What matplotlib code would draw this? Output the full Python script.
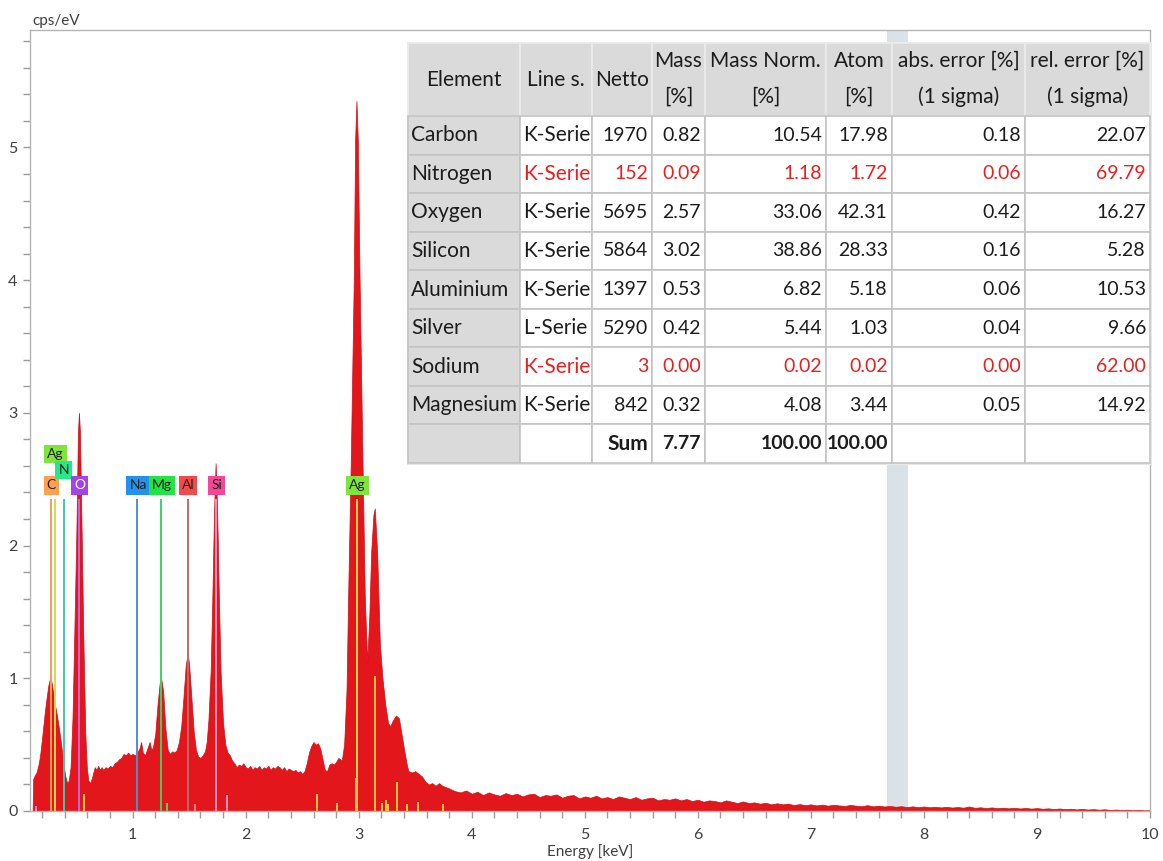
import numpy as np
import matplotlib
matplotlib.use("Agg")
import matplotlib.pyplot as plt
from matplotlib.patches import Rectangle
from matplotlib.ticker import MultipleLocator

plt.rcParams['font.family'] = ['Lato', 'DejaVu Sans']

# --- Spectre EDX ---
energy_low = [0.10, 0.115, 0.12, 0.135, 0.15, 0.165, 0.18, 0.195, 0.21, 0.225, 0.24, 0.255,
              0.272, 0.285, 0.30, 0.315, 0.33, 0.345, 0.36, 0.375, 0.39, 0.405, 0.42, 0.435,
              0.451, 0.468, 0.484, 0.502, 0.516, 0.525, 0.534, 0.549, 0.563, 0.581, 0.595,
              0.608, 0.625, 0.64, 0.655, 0.665, 0.68, 0.695, 0.71, 0.725, 0.74, 0.76, 0.78,
              0.80, 0.82, 0.84, 0.86, 0.88, 0.90, 0.92, 0.94, 0.96, 0.98, 1.00, 1.02, 1.04,
              1.06, 1.075, 1.09, 1.11, 1.13, 1.15, 1.165, 1.18, 1.20, 1.22, 1.24, 1.254, 1.27,
              1.29, 1.31, 1.33, 1.35, 1.37, 1.39, 1.41, 1.43, 1.45, 1.47, 1.487, 1.50, 1.52,
              1.54, 1.56, 1.58, 1.60, 1.62, 1.64, 1.655, 1.67, 1.69, 1.705, 1.72, 1.734, 1.748,
              1.763, 1.778, 1.80, 1.82, 1.84, 1.86, 1.88, 1.90, 1.92, 1.94, 1.96, 1.98, 2.00,
              2.02, 2.04, 2.06, 2.08, 2.10, 2.12, 2.14, 2.16, 2.18, 2.20, 2.22, 2.24, 2.26,
              2.28, 2.30, 2.32, 2.34, 2.36, 2.38, 2.40, 2.42, 2.44, 2.46, 2.48, 2.50, 2.52,
              2.54, 2.56, 2.58, 2.60, 2.62, 2.64, 2.66, 2.68, 2.70, 2.72, 2.74, 2.76, 2.78,
              2.80, 2.82, 2.85, 2.871, 2.892, 2.906, 2.93, 2.957, 2.968, 2.980, 2.992, 3.007,
              3.033, 3.054, 3.075, 3.095, 3.11, 3.13, 3.142, 3.163, 3.187, 3.21, 3.235, 3.26,
              3.28, 3.30, 3.33, 3.355, 3.375, 3.40, 3.425, 3.44, 3.47, 3.50, 3.53, 3.56, 3.59,
              3.62, 3.65, 3.68, 3.71, 3.74, 3.77]
cps_low = [0.0, 0.0, 0.24, 0.27, 0.29, 0.34, 0.41, 0.52, 0.64, 0.76, 0.86, 0.95,
           1.01, 0.96, 0.87, 0.79, 0.72, 0.64, 0.55, 0.45, 0.34, 0.26, 0.21, 0.23,
           0.33, 0.70, 1.34, 2.09, 2.85, 3.00, 2.85, 2.09, 1.34, 0.59, 0.32,
           0.23, 0.21, 0.25, 0.30, 0.33, 0.31, 0.34, 0.31, 0.33, 0.31, 0.33, 0.32,
           0.34, 0.33, 0.36, 0.37, 0.39, 0.40, 0.43, 0.42, 0.44, 0.42, 0.43, 0.42, 0.44,
           0.47, 0.52, 0.44, 0.42, 0.47, 0.52, 0.46, 0.48, 0.58, 0.80, 0.97, 0.99, 0.90,
           0.62, 0.46, 0.43, 0.45, 0.44, 0.46, 0.52, 0.64, 0.86, 1.10, 1.19, 1.10, 0.85,
           0.60, 0.46, 0.41, 0.40, 0.42, 0.45, 0.52, 0.68, 1.05, 1.60, 2.25, 2.62, 2.25,
           1.60, 1.05, 0.66, 0.50, 0.44, 0.42, 0.38, 0.36, 0.33, 0.35, 0.34, 0.36, 0.33,
           0.32, 0.34, 0.31, 0.33, 0.32, 0.34, 0.31, 0.33, 0.32, 0.34, 0.31, 0.33, 0.32,
           0.34, 0.33, 0.31, 0.33, 0.30, 0.32, 0.31, 0.30, 0.31, 0.29, 0.30, 0.28, 0.30,
           0.36, 0.44, 0.49, 0.52, 0.50, 0.51, 0.47, 0.39, 0.31, 0.30, 0.35, 0.36, 0.35,
           0.37, 0.40, 0.38, 0.50, 0.91, 1.60, 2.65, 4.04, 5.05, 5.35, 5.05, 4.04,
           2.65, 1.60, 1.12, 1.50, 1.95, 2.23, 2.28, 1.95, 1.26, 1.00, 0.80, 0.66,
           0.64, 0.68, 0.72, 0.70, 0.60, 0.47, 0.35, 0.30, 0.29, 0.30, 0.28, 0.26, 0.22,
           0.20, 0.21, 0.19, 0.21, 0.19, 0.18]

energy_tail = [3.80, 3.85, 3.90, 3.95, 4.00, 4.05, 4.10, 4.15, 4.20, 4.25, 4.30, 4.35, 4.40,
               4.45, 4.50, 4.55, 4.60, 4.65, 4.70, 4.75, 4.80, 4.85, 4.90, 4.95, 5.00, 5.05,
               5.10, 5.15, 5.20, 5.25, 5.30, 5.35, 5.40, 5.45, 5.50, 5.55, 5.60, 5.65, 5.70,
               5.75, 5.80, 5.85, 5.90, 5.95, 6.00, 6.05, 6.10, 6.15, 6.20, 6.25, 6.30, 6.35,
               6.40, 6.45, 6.50, 6.55, 6.60, 6.65, 6.70, 6.75, 6.80, 6.85, 6.90, 6.95, 7.00,
               7.05, 7.10, 7.15, 7.20, 7.25, 7.30, 7.35, 7.40, 7.45, 7.50, 7.55, 7.60, 7.65,
               7.70, 7.75, 7.80, 7.85, 7.90, 7.95, 8.00, 8.05, 8.10, 8.15, 8.20, 8.25, 8.30,
               8.35, 8.40, 8.45, 8.50, 8.55, 8.60, 8.65, 8.70, 8.75, 8.80, 8.85, 8.90, 8.95,
               9.00, 9.05, 9.10, 9.15, 9.20, 9.25, 9.30, 9.35, 9.40, 9.45, 9.50, 9.55, 9.60,
               9.65, 9.70, 9.75, 9.80, 9.85, 9.90, 9.95, 10.00]
cps_tail = [0.17, 0.15, 0.14, 0.155, 0.13, 0.145, 0.12, 0.14, 0.125, 0.115, 0.135, 0.12, 0.13,
            0.11, 0.125, 0.13, 0.105, 0.12, 0.115, 0.125, 0.10, 0.115, 0.12, 0.095, 0.11, 0.10,
            0.115, 0.095, 0.105, 0.09, 0.11, 0.10, 0.09, 0.105, 0.085, 0.095, 0.10, 0.08, 0.09,
            0.085, 0.095, 0.08, 0.09, 0.075, 0.085, 0.07, 0.08, 0.075, 0.065, 0.08, 0.07, 0.06,
            0.072, 0.06, 0.065, 0.055, 0.062, 0.05, 0.058, 0.05, 0.055, 0.045, 0.052, 0.044, 0.05,
            0.042, 0.048, 0.04, 0.047, 0.042, 0.038, 0.046, 0.04, 0.036, 0.044, 0.035, 0.04, 0.034,
            0.038, 0.032, 0.036, 0.03, 0.035, 0.029, 0.034, 0.028, 0.032, 0.027, 0.031, 0.026, 0.03,
            0.025, 0.034, 0.024, 0.028, 0.022, 0.027, 0.021, 0.025, 0.02, 0.024, 0.019, 0.023, 0.018,
            0.022, 0.017, 0.02, 0.015, 0.019, 0.014, 0.017, 0.012, 0.016, 0.011, 0.014, 0.01, 0.013,
            0.008, 0.011, 0.007, 0.01, 0.006, 0.009, 0.005, 0.006]

# --- Raies identifiées (marqueurs hauts + étiquettes) ---
raie_noms = ["C", "Ag", "N", "O", "Na", "Mg", "Al", "Si", "Ag"]
raie_energies = [0.277, 0.31, 0.392, 0.525, 1.041, 1.254, 1.486, 1.740, 2.984]
raie_hauteur = 2.35

# raies secondaires (courtes)
raie2_energies = [0.142, 0.569, 1.30, 1.551, 1.837, 2.635, 2.81, 2.975, 3.148, 3.21,
                  3.24, 3.26, 3.343, 3.43, 3.52, 3.746]
raie2_hauteurs = [0.04, 0.13, 0.06, 0.05, 0.12, 0.13, 0.06, 0.25, 1.02, 0.06,
                  0.08, 0.05, 0.22, 0.05, 0.07, 0.05]
raie2_element = ["Si", "Ag", "Mg", "Al", "Si", "Ag", "Ag", "Ag", "Ag", "Ag",
                 "Ag", "Ag", "Ag", "Ag", "Ag", "Ag"]

# zone grisée (ROI)
roi_kev = [7.672, 7.858]

# --- Tableau de quantification ---
tab_element = ["Carbon", "Nitrogen", "Oxygen", "Silicon", "Aluminium", "Silver", "Sodium", "Magnesium"]
tab_serie = ["K-Serie", "K-Serie", "K-Serie", "K-Serie", "K-Serie", "L-Serie", "K-Serie", "K-Serie"]
tab_netto = [1970, 152, 5695, 5864, 1397, 5290, 3, 842]
tab_mass = [0.82, 0.09, 2.57, 3.02, 0.53, 0.42, 0.00, 0.32]
tab_mass_norm = [10.54, 1.18, 33.06, 38.86, 6.82, 5.44, 0.02, 4.08]
tab_atom = [17.98, 1.72, 42.31, 28.33, 5.18, 1.03, 0.02, 3.44]
tab_abs_err = [0.18, 0.06, 0.42, 0.16, 0.06, 0.04, 0.00, 0.05]
tab_rel_err = [22.07, 69.79, 16.27, 5.28, 10.53, 9.66, 62.00, 14.92]
tab_douteux = ["Nitrogen", "Sodium"]
tab_sum = {"mass": 7.77, "mass_norm": 100.00, "atom": 100.00}
tab_entetes = ["Element", "Line s.", "Netto", "Mass\n[%]", "Mass Norm.\n[%]", "Atom\n[%]",
               "abs. error [%]\n(1 sigma)", "rel. error [%]\n(1 sigma)"]

# --- Styles ---
ROUGE = '#e3161b'
couleur_raie = {"C": '#e8a060', "Ag": '#d8d850', "N": '#40c8b0', "O": '#c868d8', "Na": '#4c90d0',
                "Mg": '#40d060', "Al": '#c46868', "Si": '#f090c0'}
couleur_etiq = {"C": '#ffa050', "Ag": '#7fe43c', "N": '#22ea88', "O": '#a444e4', "Na": '#2492ea',
                "Mg": '#22e444', "Al": '#f24a48', "Si": '#f44896'}
couleur_raie2 = {"Ag": '#f0c640', "Mg": '#50d860', "Al": '#e08080', "Si": '#f090c8'}
# positions des étiquettes (keV, cps/eV)
etiq_pos = [(0.280, 2.453), (0.316, 2.69), (0.390, 2.57), (0.532, 2.453), (1.047, 2.453),
            (1.257, 2.453), (1.489, 2.453), (1.745, 2.453), (2.990, 2.453)]

W, H = 1163, 861
fig = plt.figure(figsize=(W / 100, H / 100), dpi=100)
ax = fig.add_axes([30 / W, 1 - 811 / H, 1120 / W, 781 / H])

energie = np.array(energy_low + energy_tail)
cps = np.array(cps_low + cps_tail)

ax.axvspan(roi_kev[0], roi_kev[1], color='#dbe2e7', lw=0, zorder=1)
ax.fill_between(energie, cps, 0, color=ROUGE, lw=0.5, edgecolor='#d01015', zorder=2)

# raies principales
for nom, e in zip(raie_noms, raie_energies):
    ax.vlines(e, 0, raie_hauteur, color=couleur_raie[nom], lw=1.4, zorder=3)
for e, h, el in zip(raie2_energies, raie2_hauteurs, raie2_element):
    ax.vlines(e, 0, h, color=couleur_raie2[el], lw=1.4, zorder=3)

# étiquettes
for nom, (ex, ey) in zip(raie_noms, etiq_pos):
    ax.text(ex, ey, nom, ha='center', va='center', fontsize=10,
            color='white' if nom == "O" else '#202020', zorder=4,
            bbox=dict(boxstyle='square,pad=0.22', fc=couleur_etiq[nom], ec='none'))

ax.set_xlim(0.092, 10.0)
ax.set_ylim(0, 5.885)
ax.xaxis.set_major_locator(MultipleLocator(1))
ax.xaxis.set_minor_locator(MultipleLocator(0.2))
ax.yaxis.set_major_locator(MultipleLocator(1))
ax.yaxis.set_minor_locator(MultipleLocator(0.2))
ax.tick_params(which='both', direction='out', length=5, width=1, color='#9a9a9a',
               labelsize=11.5, labelcolor='#404040')
ax.tick_params(axis='x', pad=7)
ax.tick_params(axis='y', pad=4)
for s in ax.spines.values():
    s.set_color('#b4b4b4')
    s.set_linewidth(1)

fig.text(32 / W, 1 - 21 / H, "cps/eV", ha='left', va='center', fontsize=11, color='#404040')
fig.text(590 / W, 1 - 852 / H, "Energy [keV]", ha='center', va='center', fontsize=11, color='#404040')

# --- Tableau dessiné en coordonnées pixels ---
tax = fig.add_axes([0, 0, 1, 1], zorder=5)
tax.set_xlim(0, W)
tax.set_ylim(H, 0)
tax.axis('off')
tax.patch.set_alpha(0)

cols = [408, 520, 592, 652, 705, 826, 892, 1025, 1150]
rows = [43, 116, 154.6, 193.1, 231.7, 270.2, 308.8, 347.3, 385.9, 424.4, 463]
GRIS = '#dadada'
BORD = '#c4c4c4'
NOIR = '#1c1c1c'
ROUGE_TXT = '#e8201e'
FS_TXT = 15
FS_NUM = 14

tax.add_patch(Rectangle((cols[0] - 1, rows[0] - 1), cols[-1] - cols[0] + 3, rows[-1] - rows[0] + 3,
                        fc='#e8e8e8', ec='none'))
for r in range(len(rows) - 1):
    for c in range(len(cols) - 1):
        fc = GRIS if (r == 0 or c == 0) else 'white'
        ec = '#ececec' if r == 0 else BORD
        tax.add_patch(Rectangle((cols[c], rows[r]), cols[c + 1] - cols[c], rows[r + 1] - rows[r],
                                fc=fc, ec=ec, lw=1.2))

# en-têtes
for c, t in enumerate(tab_entetes):
    xc = (cols[c] + cols[c + 1]) / 2
    lignes = t.split("\n")
    if len(lignes) == 1:
        tax.text(xc, (rows[0] + rows[1]) / 2, t, ha='center', va='center', fontsize=FS_TXT, color=NOIR)
    else:
        tax.text(xc, rows[0] + 18, lignes[0], ha='center', va='center', fontsize=FS_TXT, color=NOIR)
        tax.text(xc, rows[0] + 54, lignes[1], ha='center', va='center', fontsize=FS_TXT, color=NOIR)

for i, el in enumerate(tab_element):
    yc = (rows[i + 1] + rows[i + 2]) / 2
    col = ROUGE_TXT if el in tab_douteux else NOIR
    tax.text(cols[0] + 3, yc, el, ha='left', va='center', fontsize=FS_TXT, color=NOIR)
    tax.text(cols[1] + 3, yc, tab_serie[i], ha='left', va='center', fontsize=FS_TXT, color=col)
    valeurs = [f"{tab_netto[i]}", f"{tab_mass[i]:.2f}", f"{tab_mass_norm[i]:.2f}",
               f"{tab_atom[i]:.2f}", f"{tab_abs_err[i]:.2f}", f"{tab_rel_err[i]:.2f}"]
    for k, v in enumerate(valeurs):
        tax.text(cols[k + 3] - 4, yc, v, ha='right', va='center', fontsize=FS_NUM, color=col)

yc = (rows[-2] + rows[-1]) / 2
tax.text(cols[3] - 4, yc, "Sum", ha='right', va='center', fontsize=FS_TXT, color=NOIR, fontweight='bold')
for k, v in [(4, f"{tab_sum['mass']:.2f}"), (5, f"{tab_sum['mass_norm']:.2f}"),
             (6, f"{tab_sum['atom']:.2f}")]:
    tax.text(cols[k] - 4, yc, v, ha='right', va='center', fontsize=FS_NUM, color=NOIR, fontweight='bold')

fig.savefig("out.png", dpi=100)
